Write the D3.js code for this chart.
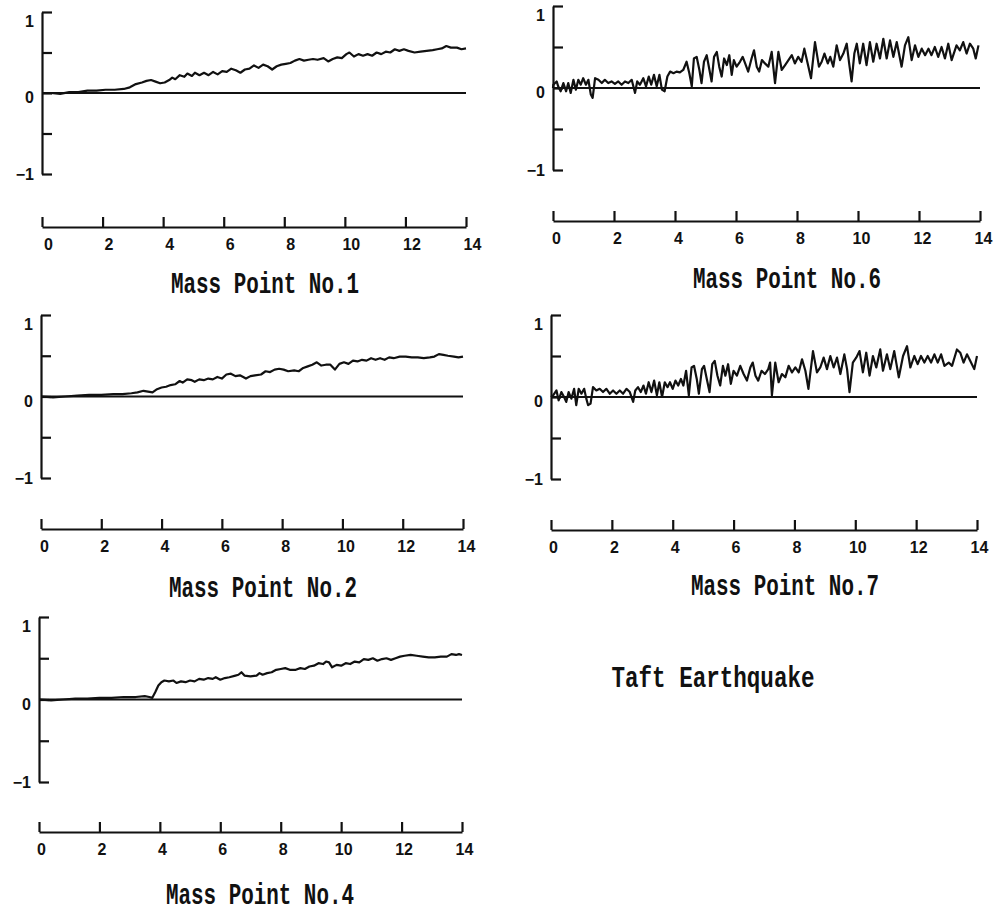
<!DOCTYPE html>
<html>
<head>
<meta charset="utf-8">
<script src="https://cdn.jsdelivr.net/npm/d3@7"></script>
<style>
  body { margin: 0; background: #fff; }
  svg { display: block; }
</style>
</head>
<body>
<div id="chart"></div>
<script>

// tick values shared by every panel
var xTicks = [0, 2, 4, 6, 8, 10, 12, 14];
var yTicks = [-1, -0.5, 0, 0.5, 1];
var titles = ["Mass Point No.1", "Mass Point No.6", "Mass Point No.2", "Mass Point No.7", "Mass Point No.4"];
var caption = "Taft Earthquake";

// [time (s), response]
var massPoint1 = [[0,0],[0.3,0],[0.6,-0.01],[0.9,0.01],[1.2,0.01],[1.5,0.03],[1.8,0.03],[2.1,0.04],[2.4,0.04],[2.7,0.05],[2.9,0.07],[3.1,0.11],[3.3,0.13],[3.45,0.15],[3.6,0.16],[3.75,0.14],[3.9,0.12],[4.05,0.13],[4.2,0.16],[4.3,0.19],[4.4,0.17],[4.55,0.22],[4.7,0.2],[4.8,0.24],[4.95,0.21],[5.05,0.25],[5.2,0.22],[5.35,0.25],[5.5,0.22],[5.65,0.26],[5.8,0.23],[5.95,0.27],[6.1,0.26],[6.25,0.3],[6.4,0.28],[6.55,0.25],[6.7,0.29],[6.85,0.3],[7.0,0.34],[7.15,0.31],[7.3,0.35],[7.45,0.33],[7.6,0.29],[7.75,0.33],[7.9,0.35],[8.05,0.36],[8.2,0.37],[8.35,0.4],[8.5,0.42],[8.65,0.4],[8.8,0.41],[8.95,0.42],[9.1,0.41],[9.3,0.43],[9.45,0.39],[9.6,0.42],[9.75,0.44],[9.9,0.43],[10.05,0.48],[10.15,0.5],[10.3,0.45],[10.45,0.48],[10.6,0.46],[10.75,0.48],[10.9,0.46],[11.05,0.5],[11.2,0.48],[11.35,0.51],[11.5,0.5],[11.65,0.54],[11.8,0.52],[11.95,0.54],[12.1,0.52],[12.3,0.5],[12.5,0.51],[12.7,0.52],[12.9,0.53],[13.05,0.54],[13.2,0.55],[13.35,0.58],[13.5,0.56],[13.7,0.56],[13.85,0.54],[14,0.55]];

var massPoint2 = [[0,0],[0.4,-0.01],[0.8,0],[1.2,0.01],[1.6,0.02],[2.0,0.02],[2.4,0.03],[2.7,0.03],[3.0,0.04],[3.2,0.05],[3.4,0.07],[3.55,0.06],[3.7,0.05],[3.85,0.09],[4.0,0.11],[4.15,0.12],[4.3,0.14],[4.45,0.15],[4.6,0.19],[4.7,0.17],[4.85,0.21],[5.0,0.2],[5.1,0.18],[5.25,0.21],[5.4,0.2],[5.55,0.22],[5.7,0.21],[5.85,0.24],[6.0,0.22],[6.15,0.27],[6.3,0.28],[6.45,0.25],[6.6,0.26],[6.8,0.22],[6.95,0.25],[7.1,0.26],[7.3,0.27],[7.45,0.31],[7.6,0.3],[7.75,0.33],[7.9,0.34],[8.05,0.33],[8.2,0.31],[8.4,0.32],[8.55,0.31],[8.7,0.35],[8.85,0.37],[9.0,0.39],[9.15,0.42],[9.3,0.38],[9.45,0.39],[9.6,0.39],[9.75,0.33],[9.9,0.4],[10.05,0.42],[10.2,0.4],[10.35,0.44],[10.5,0.43],[10.65,0.45],[10.8,0.44],[10.95,0.47],[11.1,0.45],[11.25,0.47],[11.4,0.45],[11.55,0.48],[11.7,0.47],[11.9,0.49],[12.1,0.49],[12.3,0.48],[12.5,0.48],[12.7,0.47],[12.9,0.48],[13.05,0.49],[13.2,0.52],[13.35,0.51],[13.5,0.5],[13.7,0.49],[13.85,0.48],[14,0.49]];

var massPoint4 = [[0,0],[0.4,-0.01],[0.8,0],[1.2,0.01],[1.6,0.01],[2.0,0.02],[2.4,0.02],[2.8,0.03],[3.2,0.03],[3.5,0.04],[3.65,0.03],[3.75,0.02],[3.85,0.09],[3.95,0.17],[4.05,0.21],[4.15,0.23],[4.3,0.22],[4.45,0.23],[4.55,0.2],[4.7,0.22],[4.85,0.21],[5.0,0.23],[5.15,0.22],[5.3,0.25],[5.45,0.24],[5.6,0.26],[5.75,0.25],[5.85,0.27],[6.0,0.24],[6.15,0.26],[6.3,0.27],[6.5,0.29],[6.6,0.3],[6.7,0.33],[6.8,0.29],[7.0,0.28],[7.2,0.29],[7.3,0.32],[7.4,0.3],[7.55,0.32],[7.7,0.33],[7.85,0.36],[8.0,0.37],[8.15,0.38],[8.3,0.36],[8.5,0.36],[8.65,0.38],[8.8,0.37],[8.95,0.4],[9.1,0.41],[9.25,0.44],[9.4,0.43],[9.5,0.46],[9.6,0.45],[9.7,0.39],[9.85,0.42],[10.0,0.41],[10.15,0.44],[10.3,0.43],[10.45,0.46],[10.6,0.45],[10.75,0.49],[10.9,0.48],[11.05,0.5],[11.2,0.47],[11.35,0.49],[11.5,0.5],[11.65,0.48],[11.8,0.5],[11.95,0.52],[12.1,0.53],[12.3,0.54],[12.5,0.53],[12.7,0.52],[12.9,0.51],[13.1,0.51],[13.3,0.52],[13.5,0.52],[13.65,0.55],[13.8,0.54],[13.9,0.55],[14,0.54]];

var massPoint6 = [[0,0],[0.01,0.04],[0.12,0.08],[0.17,0.02],[0.25,-0.04],[0.34,0.06],[0.43,-0.04],[0.5,0.06],[0.58,-0.06],[0.67,0.1],[0.75,-0.02],[0.83,0.1],[0.91,0.04],[0.99,0.12],[1.08,0.04],[1.16,0.1],[1.24,-0.08],[1.3,-0.12],[1.38,0.12],[1.49,0.1],[1.6,0.06],[1.7,0.1],[1.81,0.06],[1.92,0.08],[2.03,0.05],[2.14,0.08],[2.25,0.04],[2.36,0.08],[2.47,0.06],[2.58,0.1],[2.69,-0.06],[2.76,0.08],[2.85,0.04],[2.96,0.12],[3.05,0.02],[3.14,0.14],[3.22,0.04],[3.31,0.16],[3.4,0.02],[3.49,0.16],[3.57,-0.02],[3.66,-0.04],[3.75,0.14],[3.84,0.2],[3.95,0.18],[4.05,0.2],[4.16,0.19],[4.27,0.22],[4.38,0.32],[4.47,0.18],[4.55,0.02],[4.62,0.36],[4.71,0.38],[4.8,0.22],[4.87,0.06],[4.95,0.32],[5.04,0.4],[5.13,0.22],[5.2,0.08],[5.28,0.38],[5.37,0.44],[5.45,0.26],[5.53,0.14],[5.61,0.36],[5.7,0.28],[5.78,0.4],[5.86,0.16],[5.93,0.34],[6.02,0.26],[6.13,0.32],[6.22,0.38],[6.3,0.3],[6.4,0.2],[6.51,0.36],[6.59,0.46],[6.68,0.26],[6.76,0.2],[6.85,0.34],[6.95,0.3],[7.06,0.26],[7.17,0.44],[7.28,0.06],[7.39,0.44],[7.5,0.22],[7.61,0.28],[7.72,0.34],[7.83,0.4],[7.93,0.3],[8.04,0.38],[8.15,0.32],[8.24,0.48],[8.35,0.3],[8.46,0.12],[8.59,0.56],[8.72,0.26],[8.81,0.32],[8.9,0.42],[9.01,0.3],[9.09,0.38],[9.19,0.26],[9.3,0.52],[9.41,0.34],[9.52,0.42],[9.63,0.54],[9.71,0.3],[9.79,0.08],[9.88,0.42],[9.96,0.54],[10.06,0.3],[10.17,0.54],[10.28,0.28],[10.39,0.56],[10.5,0.32],[10.61,0.54],[10.72,0.36],[10.83,0.6],[10.94,0.36],[11.05,0.58],[11.16,0.38],[11.27,0.56],[11.43,0.26],[11.54,0.52],[11.65,0.62],[11.76,0.34],[11.87,0.52],[11.98,0.38],[12.09,0.48],[12.2,0.4],[12.31,0.48],[12.41,0.4],[12.52,0.5],[12.63,0.38],[12.74,0.5],[12.85,0.36],[12.96,0.54],[13.07,0.34],[13.23,0.52],[13.34,0.46],[13.45,0.56],[13.56,0.42],[13.67,0.54],[13.78,0.48],[13.86,0.36],[13.95,0.52]];

var massPoint7 = [[0,0],[0.07,0.02],[0.18,0.08],[0.25,-0.04],[0.34,0.06],[0.43,0],[0.5,-0.06],[0.58,0.06],[0.67,-0.02],[0.76,0.1],[0.83,-0.1],[0.91,0.1],[1.0,0.04],[1.09,0.1],[1.16,-0.02],[1.22,-0.1],[1.3,-0.08],[1.38,0.12],[1.49,0.08],[1.6,0.1],[1.71,0.06],[1.82,0.1],[1.93,0.04],[2.04,0.08],[2.15,0.04],[2.26,0.08],[2.37,0.04],[2.48,0.1],[2.59,0.06],[2.7,-0.06],[2.77,0.08],[2.86,0.12],[2.95,0.06],[3.04,0.14],[3.12,0.04],[3.21,0.18],[3.3,0.06],[3.39,0.2],[3.48,0.02],[3.56,0.18],[3.65,0],[3.74,0.18],[3.83,0.12],[3.91,0.18],[4.0,0.1],[4.09,0.2],[4.18,0.14],[4.27,0.22],[4.35,0.14],[4.44,0.32],[4.53,0.02],[4.62,0.36],[4.7,0.38],[4.79,0.22],[4.86,0.04],[4.96,0.34],[5.03,0.38],[5.12,0.22],[5.21,0.06],[5.3,0.4],[5.38,0.44],[5.47,0.26],[5.56,0.14],[5.65,0.38],[5.73,0.26],[5.82,0.4],[5.91,0.16],[6.0,0.32],[6.11,0.26],[6.22,0.38],[6.33,0.28],[6.44,0.2],[6.55,0.36],[6.63,0.42],[6.72,0.26],[6.81,0.2],[6.92,0.32],[7.03,0.28],[7.14,0.34],[7.2,0.42],[7.26,0.02],[7.37,0.42],[7.48,0.18],[7.59,0.28],[7.7,0.24],[7.81,0.38],[7.92,0.3],[8.03,0.36],[8.14,0.3],[8.25,0.46],[8.36,0.32],[8.46,0.1],[8.61,0.56],[8.74,0.3],[8.85,0.36],[8.96,0.48],[9.07,0.34],[9.18,0.5],[9.29,0.36],[9.4,0.48],[9.51,0.28],[9.64,0.52],[9.73,0.34],[9.81,0.06],[9.92,0.42],[10.03,0.48],[10.14,0.56],[10.25,0.3],[10.36,0.54],[10.47,0.26],[10.58,0.5],[10.69,0.36],[10.82,0.58],[10.91,0.32],[11.04,0.52],[11.15,0.34],[11.28,0.56],[11.43,0.24],[11.57,0.5],[11.7,0.62],[11.81,0.36],[11.94,0.5],[12.05,0.4],[12.16,0.5],[12.27,0.42],[12.38,0.5],[12.49,0.42],[12.6,0.52],[12.71,0.42],[12.82,0.52],[12.93,0.38],[13.07,0.42],[13.18,0.38],[13.34,0.58],[13.45,0.54],[13.56,0.42],[13.67,0.52],[13.78,0.44],[13.91,0.34],[14.0,0.5]];

// where each panel sits on the page
var panels = [
  {data: massPoint1, title: titles[0], x0: 42,  x1: 466, yTop: 12,  yBot: 174, axisY: 227, dx: 6, tx: 265, ty: 293},
  {data: massPoint6, title: titles[1], x0: 553, x1: 980, yTop: 6,   yBot: 170, axisY: 221, dx: 3, tx: 787, ty: 288},
  {data: massPoint2, title: titles[2], x0: 41,  x1: 463, yTop: 315, yBot: 478, axisY: 529, dx: 3, tx: 263, ty: 597},
  {data: massPoint7, title: titles[3], x0: 551, x1: 977, yTop: 315, yBot: 479, axisY: 530, dx: 2, tx: 785, ty: 595},
  {data: massPoint4, title: titles[4], x0: 39,  x1: 462, yTop: 617, yBot: 782, axisY: 832, dx: 2, tx: 260, ty: 904}
];

var ink = "#111";
var tickFont = "'Liberation Sans', Arial, sans-serif";
var titleFont = "'Liberation Mono', 'Courier New', monospace";

var svg = d3.select("#chart").append("svg")
    .attr("width", 996)
    .attr("height", 912)
    .style("background", "#fff");

panels.forEach(function(p) {
  var x = d3.scaleLinear().domain([0, 14]).range([p.x0, p.x1]);
  var y = d3.scaleLinear().domain([-1, 1]).range([p.yBot, p.yTop]);
  var g = svg.append("g");

  // y axis: ticks point inward, labels on the left
  var yAxis = g.append("g")
      .attr("transform", "translate(" + p.x0 + ",0)")
      .call(d3.axisLeft(y)
        .tickValues(yTicks)
        .tickSizeInner(-10)
        .tickSizeOuter(0)
        .tickPadding(8)
        .tickFormat(function(d) { return d === 1 ? "1" : d === 0 ? "0" : d === -1 ? "\u22121" : ""; }));
  yAxis.selectAll("text")
      .attr("dy", function(d) { return d > 0 ? "0.9em" : d === 0 ? "0.6em" : "0.32em"; });

  // x axis sits below, ticks pointing up
  var xAxis = g.append("g")
      .attr("transform", "translate(0," + p.axisY + ")")
      .call(d3.axisBottom(x)
        .tickValues(xTicks)
        .tickSizeInner(-10)
        .tickSizeOuter(0)
        .tickPadding(12));
  xAxis.selectAll("text").attr("dx", p.dx);

  g.selectAll(".domain, .tick line")
      .attr("stroke", ink)
      .attr("stroke-width", 2.2);
  g.selectAll(".tick text")
      .attr("fill", ink)
      .style("font-family", tickFont)
      .style("font-size", "16px")
      .style("font-weight", "bold");

  // zero reference line
  g.append("line")
      .attr("x1", x(0)).attr("x2", x(14))
      .attr("y1", y(0)).attr("y2", y(0))
      .attr("stroke", ink)
      .attr("stroke-width", 2.2);

  var line = d3.line()
      .x(function(d) { return x(d[0]); })
      .y(function(d) { return y(d[1]); });

  g.append("path")
      .datum(p.data)
      .attr("d", line)
      .attr("fill", "none")
      .attr("stroke", ink)
      .attr("stroke-width", 2.2)
      .attr("stroke-linejoin", "round");

  g.append("text")
      .attr("x", p.tx)
      .attr("y", p.ty)
      .attr("text-anchor", "middle")
      .attr("textLength", 188)
      .attr("lengthAdjust", "spacingAndGlyphs")
      .style("font-family", titleFont)
      .style("font-size", "30px")
      .style("font-weight", "bold")
      .attr("fill", ink)
      .text(p.title);
});

svg.append("text")
    .attr("x", 713)
    .attr("y", 687)
    .attr("text-anchor", "middle")
    .attr("textLength", 203)
    .attr("lengthAdjust", "spacingAndGlyphs")
    .style("font-family", titleFont)
    .style("font-size", "30px")
    .style("font-weight", "bold")
    .attr("fill", ink)
    .text(caption);

</script>
</body>
</html>
